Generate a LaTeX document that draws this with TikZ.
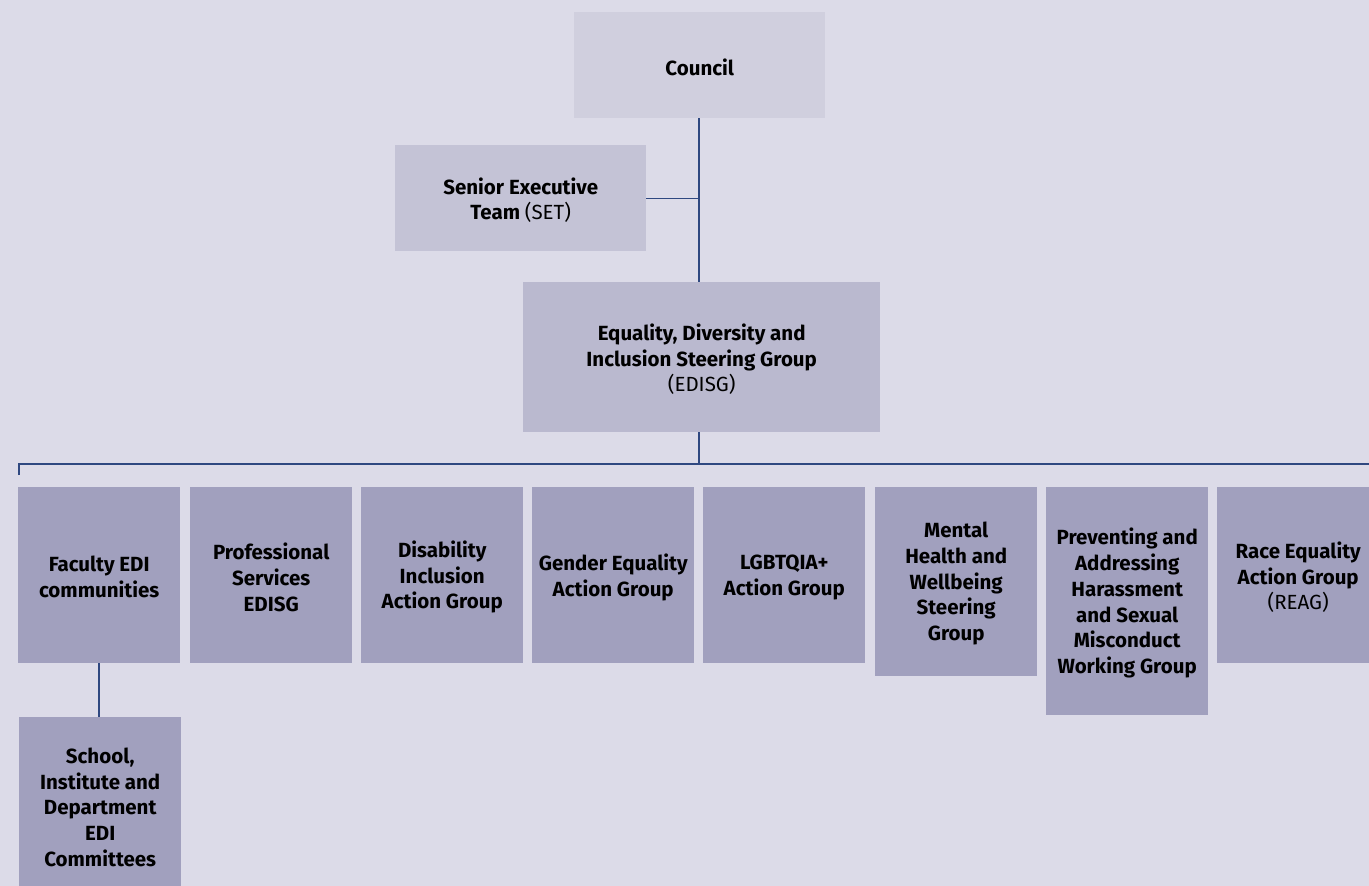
\documentclass[tikz,border=0pt]{standalone}
\usepackage{fontspec}
\setmainfont{Fira Sans}
\definecolor{bg}{RGB}{220,219,232}
\definecolor{c1}{RGB}{208,207,222}
\definecolor{c2}{RGB}{196,195,214}
\definecolor{c3}{RGB}{186,185,207}
\definecolor{c4}{RGB}{161,160,190}
\definecolor{ln}{RGB}{47,72,128}
\tikzset{
  box/.style={rectangle, inner sep=0pt, anchor=north west},
  group/.style={box, fill=c4, minimum width=162pt, minimum height=176pt},
  lbl/.style={inner sep=0pt, align=center, yshift=-2pt,
    font=\fontsize{20.5}{25.7}\selectfont\bfseries, text=black},
  link/.style={draw=ln, line width=1.3pt}
}
\newcommand{\rg}[1]{\mdseries #1}
\begin{document}
\begin{tikzpicture}[x=1pt,y=-1pt]
\fill[bg] (0,0) rectangle (1369,886);
\useasboundingbox (0,0) rectangle (1369,886);
\node[box, fill=c1, minimum width=251pt, minimum height=106pt] (council) at (574,12) {};
\node[box, fill=c2, minimum width=251pt, minimum height=106pt] (set) at (395,145) {};
\node[box, fill=c3, minimum width=357pt, minimum height=150pt] (edisg) at (523,282) {};
\node[group] (g1) at (18,487) {};
\node[group] (g2) at (190,487) {};
\node[group] (g3) at (361,487) {};
\node[group] (g4) at (532,487) {};
\node[group] (g5) at (703,487) {};
\node[group, minimum height=189pt] (g6) at (875,487) {};
\node[group, minimum height=228pt] (g7) at (1046,487) {};
\node[group] (g8) at (1217,487) {};
\node[group] (sub) at (19,717) {};
\node[lbl] (tcouncil) at (council.center) {Council};
\node[lbl] (tset) at (set.center) {Senior Executive\\Team {\rg{(SET)}}};
\node[lbl] (tedisg) at (edisg.center) {Equality, Diversity and\\Inclusion Steering Group\\{\rg{(EDISG)}}};
\node[lbl] (t1) at (g1.center) {Faculty EDI\\communities};
\node[lbl] (t2) at (g2.center) {Professional\\Services\\EDISG};
\node[lbl] (t3) at (g3.center) {Disability\\Inclusion\\Action Group};
\node[lbl] (t4) at (g4.center) {Gender Equality\\Action Group};
\node[lbl] (t5) at (g5.center) {LGBTQIA+\\Action Group};
\node[lbl] (t6) at (g6.center) {Mental\\Health and\\Wellbeing\\Steering\\Group};
\node[lbl] (t7) at (g7.center) {Preventing and\\Addressing\\Harassment\\and Sexual\\Misconduct\\Working Group};
\node[lbl] (t8) at (g8.center) {Race Equality\\Action Group\\{\rg{(REAG)}}};
\node[lbl] (tsub) at (sub.center) {School,\\Institute and\\Department\\EDI\\Committees};
\coordinate (bus) at (699,464);
\coordinate (busL) at (19,464);
\coordinate (busR) at (1369,464);
\coordinate (tick) at (19,475);
\draw[link] (council.south -| bus) -- (edisg.north -| bus);
\draw[link] (set.east) -- (set.east -| bus);
\draw[link] (edisg.south -| bus) -- (bus);
\draw[link] (tick) -- (busL) -- (busR);
\draw[link] (g1.south -| 99,0) -- (sub.north -| 99,0);
\end{tikzpicture}
\end{document}
